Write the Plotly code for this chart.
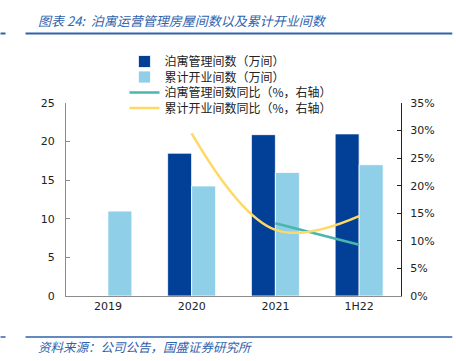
import plotly.graph_objects as go

categories = ["2019", "2020", "2021", "1H22"]
managed_rooms = [None, 18.5, 20.9, 21.0]          # 泊寓管理间数（万间）
opened_rooms = [11.0, 14.25, 16.0, 17.0]          # 累计开业间数（万间）
managed_yoy = [None, None, 0.132, 0.093]          # 泊寓管理间数同比
opened_yoy = [None, 0.295, 0.12, 0.145]           # 累计开业间数同比
left_ticks = [0, 5, 10, 15, 20, 25]
right_ticks = [0, 0.05, 0.10, 0.15, 0.20, 0.25, 0.30, 0.35]

W, H = 456, 361
L, R, T, B = 65.5, 55.3, 103, 65
pw, ph = W - L - R, H - T - B

def px(x):
    return (x - L) / pw

def py(y):
    return (H - B - y) / ph

cjk = "Noto Sans CJK SC"
num = "DejaVu Sans"

fig = go.Figure()
fig.add_trace(go.Bar(
    x=categories, y=managed_rooms, name="泊寓管理间数（万间）", legend="legend",
    marker=dict(color="#023f96", line=dict(color="white", width=0.8)),
))
fig.add_trace(go.Bar(
    x=categories, y=opened_rooms, name="累计开业间数（万间）", legend="legend2",
    marker=dict(color="#8fcfe8", line=dict(color="white", width=0.8)),
))
fig.add_trace(go.Scatter(
    x=categories, y=managed_yoy, name="泊寓管理间数同比（%，右轴）", legend="legend3",
    yaxis="y2", mode="lines", line=dict(color="#4bb5ae", width=2.5),
))
fig.add_trace(go.Scatter(
    x=categories, y=opened_yoy, name="累计开业间数同比（%，右轴）", legend="legend4",
    yaxis="y2", mode="lines", line=dict(color="#ffd966", width=2.5, shape="spline", smoothing=1.1),
))

def leg(yc):
    return dict(
        x=px(124), y=py(yc), xanchor="left", yanchor="middle",
        font=dict(family=cjk, size=12, color="#222"),
        bgcolor="rgba(0,0,0,0)", itemwidth=30, borderwidth=0,
    )

fig.update_layout(
    width=W, height=H, autosize=False,
    margin=dict(l=L, r=R, t=T, b=B),
    plot_bgcolor="white", paper_bgcolor="white",
    barmode="group", bargap=0.427, bargroupgap=0,
    showlegend=True,
    legend=leg(61.5), legend2=leg(77), legend3=leg(92.5), legend4=leg(108),
    xaxis=dict(
        type="category", showline=True, linecolor="#8c8c8c", linewidth=1,
        ticks="", tickfont=dict(family=num, size=11, color="#222"),
        showgrid=False, zeroline=False,
    ),
    yaxis=dict(
        range=[0, 25], tickvals=left_ticks, showline=True, linecolor="#8c8c8c", linewidth=1,
        ticks="inside", ticklen=4, tickcolor="#8c8c8c",
        tickfont=dict(family=num, size=11, color="#222"),
        showgrid=False, zeroline=False, ticklabelstandoff=8,
    ),
    yaxis2=dict(
        range=[0, 0.35], tickvals=right_ticks, tickformat=".0%", overlaying="y", side="right",
        showline=True, linecolor="#222", linewidth=1,
        ticks="inside", ticklen=4, tickcolor="#222",
        tickfont=dict(family=num, size=11, color="#222"),
        showgrid=False, zeroline=False, ticklabelstandoff=6,
    ),
    shapes=[
        dict(type="line", xref="paper", yref="paper", x0=px(25), x1=px(452), y0=py(33.5), y1=py(33.5),
             line=dict(color="#2f62ad", width=2)),
        dict(type="line", xref="paper", yref="paper", x0=px(0), x1=px(5), y0=py(33.5), y1=py(33.5),
             line=dict(color="#2f62ad", width=2)),
        dict(type="line", xref="paper", yref="paper", x0=px(25), x1=px(452), y0=py(337), y1=py(337),
             line=dict(color="#2f62ad", width=1.5)),
        dict(type="line", xref="paper", yref="paper", x0=px(0), x1=px(5), y0=py(337), y1=py(337),
             line=dict(color="#2f62ad", width=1.5)),
    ],
    annotations=[
        dict(text="<i>图表 24:  泊寓运营管理房屋间数以及累计开业间数</i>", xref="paper", yref="paper",
             x=px(35), y=py(20), xanchor="left", yanchor="middle", showarrow=False,
             font=dict(family=cjk, size=13, color="#2f62ad")),
        dict(text="<i>资料来源：公司公告，国盛证券研究所</i>", xref="paper", yref="paper",
             x=px(35), y=py(346), xanchor="left", yanchor="middle", showarrow=False,
             font=dict(family=cjk, size=12.5, color="#2f62ad")),
    ],
)

fig.write_html(
    "out.html",
    config={"displayModeBar": False},
    post_script="document.body.style.margin='0';document.body.style.overflow='hidden';",
)
